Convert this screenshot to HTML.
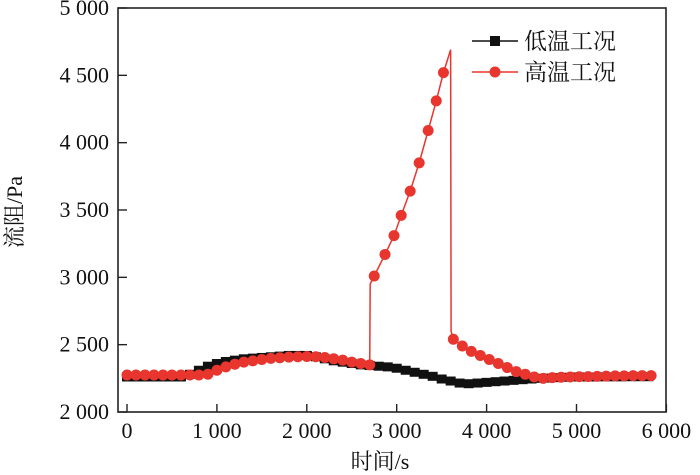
<!DOCTYPE html>
<html><head><meta charset="utf-8"><style>
html,body{margin:0;padding:0;background:#fff;width:700px;height:475px;overflow:hidden}
svg text{font-family:"Liberation Serif","Noto Serif CJK SC","Noto Sans CJK SC",serif;fill:#111}
</style></head><body>
<svg id="chart" width="700" height="475" xmlns="http://www.w3.org/2000/svg">
<rect x="118" y="8" width="548" height="404" fill="none" stroke="#222" stroke-width="1.6"/>
<g id="xt"></g>
<g id="yt"></g>
<g id="series"></g>
<text x="380" y="469" font-size="22" text-anchor="middle">时间/s</text>
<text x="0" y="0" font-size="22" text-anchor="middle" transform="translate(22,212) rotate(-90)">流阻/Pa</text>
<g>
<g>
<line x1="472" y1="41" x2="518" y2="41" stroke="#111" stroke-width="1.6"/>
<rect x="490" y="36" width="10" height="10" fill="#111"/>
<text x="524" y="49" font-size="23">低温工况</text></g>
<g>
<line x1="472" y1="72" x2="518" y2="72" stroke="#e8352e" stroke-width="1.6"/>
<circle cx="495" cy="72" r="5.5" fill="#e8352e"/>
<text x="524" y="80" font-size="23">高温工况</text></g>
</g>
</svg>
<script>
const xTicks=[0,1000,2000,3000,4000,5000,6000];
const xTickLabels=["0","1 000","2 000","3 000","4 000","5 000","6 000"];
const yTicks=[2000,2500,3000,3500,4000,4500,5000];
const yTickLabels=["2 000","2 500","3 000","3 500","4 000","4 500","5 000"];
const lowTimes=[0,100,200,300,400,500,600,700,800,900,1000,1100,1200,1300,1400,1500,1600,1700,1800,1900,2000,2100,2200,2300,2400,2500,2600,2700,2800,2900,3000,3100,3200,3300,3400,3500,3600,3700,3800,3900,4000,4100,4200,4300,4400,4500,4600,4700,4800,4900,5000,5100,5200,5300,5400,5500,5600,5700,5800];
const lowValues=[2260,2260,2260,2260,2260,2260,2260,2280,2310,2340,2360,2375,2385,2395,2400,2405,2410,2415,2420,2420,2420,2410,2395,2380,2370,2360,2350,2345,2340,2335,2325,2310,2295,2280,2265,2245,2230,2215,2210,2215,2220,2225,2230,2235,2240,2245,2250,2252,2255,2258,2260,2260,2260,2261,2261,2261,2262,2262,2262];
const highTimes=[0,100,200,300,400,500,600,700,800,900,1000,1100,1200,1300,1400,1500,1600,1700,1800,1900,2000,2100,2200,2300,2400,2500,2600,2700,2750,2870,2970,3050,3150,3250,3350,3440,3520,3630,3730,3830,3930,4030,4130,4230,4330,4430,4530,4630,4730,4830,4930,5030,5130,5230,5330,5430,5530,5630,5730,5830];
const highValues=[2275,2275,2275,2275,2275,2275,2275,2275,2275,2280,2310,2335,2355,2370,2380,2390,2398,2403,2408,2410,2412,2410,2405,2395,2385,2370,2360,2350,3010,3170,3310,3460,3640,3850,4090,4310,4520,2540,2490,2450,2420,2390,2360,2330,2300,2280,2260,2250,2255,2258,2260,2262,2263,2265,2266,2268,2268,2270,2270,2270];
const highPeakTime=3600, highPeakValue=4690;
const xS=t=>127+t*0.0899;
const yS=v=>412-(v-2000)*(404/3000);
const NS="http://www.w3.org/2000/svg";
function mk(tag,attrs,parent){const e=document.createElementNS(NS,tag);for(const k in attrs)e.setAttribute(k,attrs[k]);parent.appendChild(e);return e;}
const xt=document.getElementById('xt'),yt=document.getElementById('yt'),sg=document.getElementById('series');
xTicks.forEach((t,i)=>{
 const l=mk('line',{x1:xS(t),x2:xS(t),y1:412,y2:404,stroke:'#222','stroke-width':1.4},xt);
 
 
 const tx=mk('text',{x:xS(t),y:438,'font-size':22,'text-anchor':'middle'},xt);tx.textContent=xTickLabels[i];
 
 
});
yTicks.forEach((v,i)=>{
 const l=mk('line',{x1:118,x2:127,y1:yS(v),y2:yS(v),stroke:'#222','stroke-width':1.4},yt);
 
 
 const tx=mk('text',{x:109,y:yS(v)+7,'font-size':22,'text-anchor':'end'},yt);tx.textContent=yTickLabels[i];
 
 
});
let d=lowTimes.map((t,i)=>(i?'L':'M')+xS(t)+','+yS(lowValues[i])).join(' ');
const lp=mk('path',{d:d,fill:'none',stroke:'#111','stroke-width':4},sg);


lowTimes.forEach((t,i)=>{
 const r=mk('rect',{x:xS(t)-5,y:yS(lowValues[i])-4.5,width:10,height:9,fill:'#111'},sg);
 
 
});
let pts=[];
highTimes.forEach((t,i)=>{
 if(i>0&&highTimes[i-1]===2700){pts.push([xS(2705),yS(2950)]);}
 if(i>0&&highTimes[i-1]===3520){pts.push([xS(highPeakTime),yS(highPeakValue)]);pts.push([xS(highPeakTime+5),yS(2600)]);}
 pts.push([xS(t),yS(highValues[i])]);
});
const hp=mk('path',{d:pts.map((p,i)=>(i?'L':'M')+p[0]+','+p[1]).join(' '),fill:'none',stroke:'#e8352e','stroke-width':1.5},sg);


highTimes.forEach((t,i)=>{
 const c=mk('circle',{cx:xS(t),cy:yS(highValues[i]),r:5.5,fill:'#e8352e'},sg);
 
 
});
</script>
</body></html>
